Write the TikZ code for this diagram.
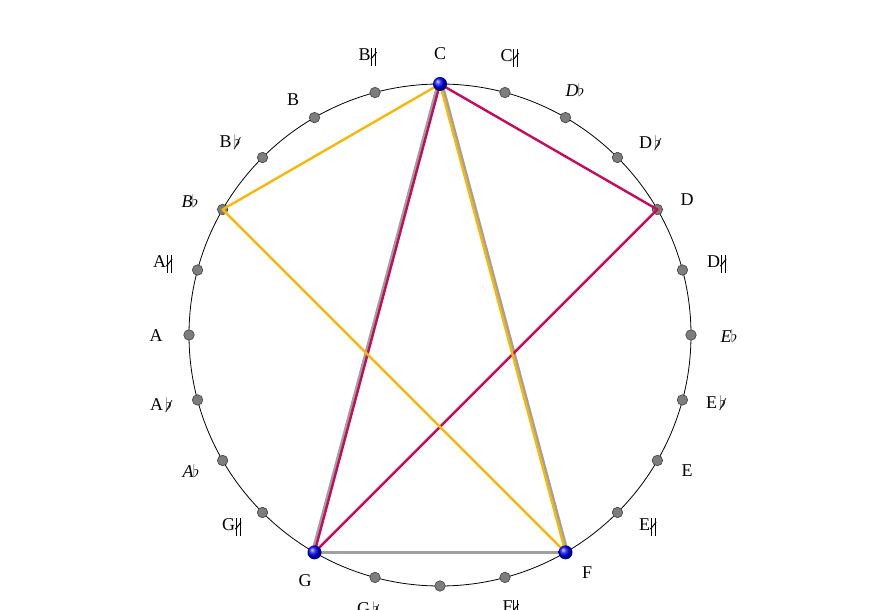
\documentclass[tikz,border=0pt]{standalone}
\usepackage{fontspec}
\setmainfont{Liberation Serif}
\definecolor{triorange}{RGB}{247,184,10}
\definecolor{tricrimson}{RGB}{200,10,90}
\definecolor{trigray}{RGB}{160,160,160}
\definecolor{dotgray}{RGB}{125,125,125}
\newcommand\qsharp{\mbox{\kern0.04em\rule[-0.28em]{0.045em}{0.95em}\kern0.16em\rule[-0.28em]{0.045em}{0.95em}\kern-0.3em\raisebox{0.06em}{\rotatebox{50}{\rule{0.5em}{0.055em}}}\kern0.02em}}
\newcommand\qflat{\kern0.12em\mbox{\ooalign{$\flat$\cr\hidewidth\raisebox{-0.1em}{\itshape /}\hidewidth}}}
\newcommand\itflat[1]{{\itshape #1}\kern-0.05em$\flat$}
\begin{document}
\begin{tikzpicture}[x=1pt,y=1pt,
  lbl/.style={font=\fontsize{18}{21}\selectfont, inner sep=0pt},
  graydot/.style={circle, fill=dotgray, draw=black!75, line width=0.6pt, minimum size=10.5pt, inner sep=0pt},
  graylin/.style={draw=trigray, line width=3pt},
  crimlin/.style={draw=tricrimson, line width=2.4pt, line join=round},
  orlin/.style={draw=triorange, line width=2.4pt, line join=round}]
\useasboundingbox (0,0) rectangle (878,610);
\clip (0,0) rectangle (878,610);
\fill[white] (0,0) rectangle (878,610);
\coordinate (O) at (440,275);
\draw[line width=0.8pt] (O) circle (251);
\foreach \i in {0,...,23} {\path (O) ++({90-15*\i}:251) coordinate (p\i);}
\foreach \i/\x/\y/\t in {0/440/54/C, 1/510/58/C\qsharp, 2/575/90/\itflat{D}, 3/650/143/D\qflat, 4/687/200/D, 5/717/264/D\qsharp, 6/729/336/\itflat{E}, 7/716/403/E\qflat, 8/687/471/E, 9/648/527/E\qsharp, 10/587/573/F, 11/511/609/F\qsharp, 13/368/609/G\qflat, 14/305/581/G, 15/232/527/G\qsharp, 16/191/471/\itflat{A}, 17/161/405/A\qflat, 18/156/336/A, 19/163/264/A\qsharp, 20/190/201/\itflat{B}, 21/230/142/B\qflat, 22/293/100/B, 23/368/57/B\qsharp}
  {\node[lbl] (l\i) at (\x,610-\y) {\t};}
\foreach \i in {1,...,9,11,12,13,15,16,...,23} {\node[graydot] (d\i) at (p\i) {};}
\draw[graylin, transform canvas={xshift=-2pt}] (p0) -- (p14);
\draw[graylin, transform canvas={xshift=2pt}] (p0) -- (p10);
\draw[graylin] (p14) -- (p10);
\draw[crimlin] (p0) -- (p4) -- (p14) -- cycle;
\draw[orlin] (p0) -- (p20) -- (p10) -- cycle;
\foreach \i in {0,10,14} {\shade[ball color=blue] (p\i) circle (7);}
\end{tikzpicture}
\end{document}
